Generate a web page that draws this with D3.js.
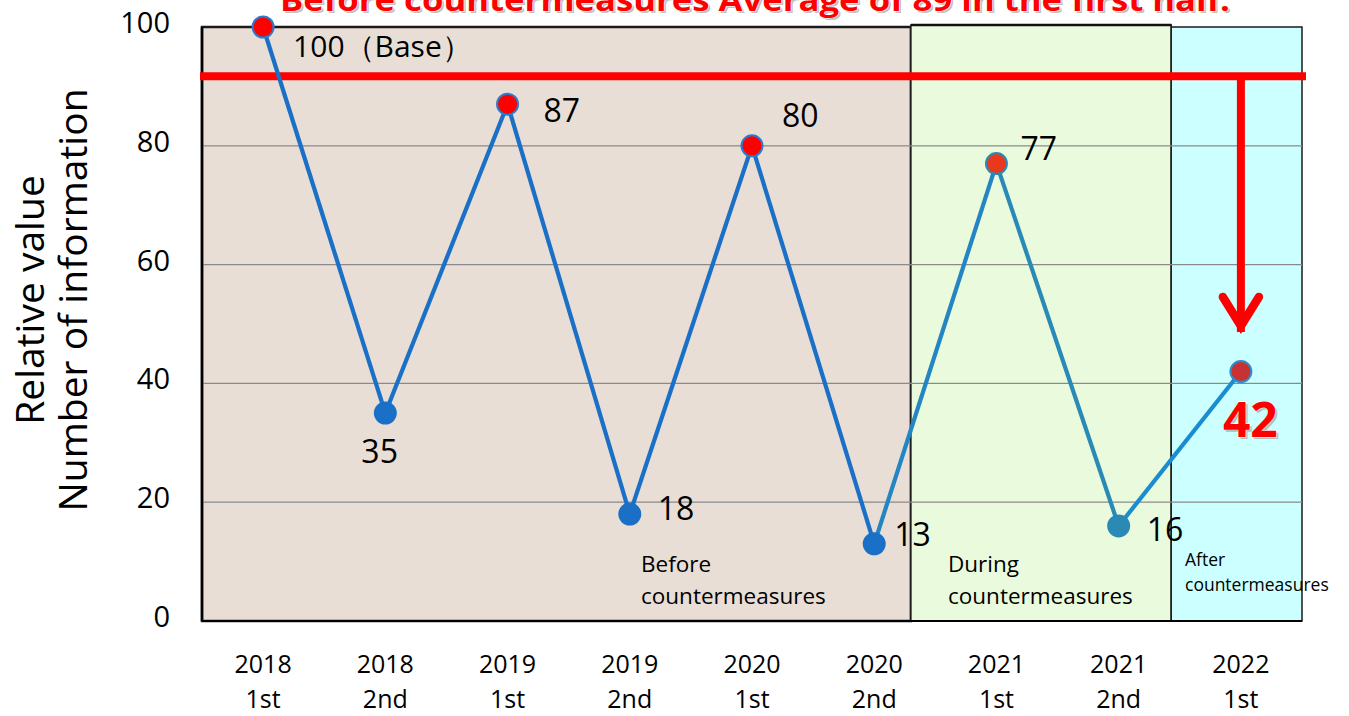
<!DOCTYPE html>
<html><head><meta charset="utf-8">
<script src="https://cdn.jsdelivr.net/npm/d3@7"></script>
<style>body{margin:0;background:#fff;} text{font-family:"Open Sans","Noto Sans",sans-serif;}</style>
</head><body>
<svg id="c" width="1349" height="716"></svg>
<script>
const categories = ["2018\n1st","2018\n2nd","2019\n1st","2019\n2nd","2020\n1st","2020\n2nd","2021\n1st","2021\n2nd","2022\n1st"];
const values = [100,35,87,18,80,13,77,16,42];
const labels = ["100（Base）","35","87","18","80","13","77","16","42"];
const yTicks = [0,20,40,60,80,100];
const regions = [
  {name:"Before\ncountermeasures", from:-0.5, to:5.3},
  {name:"During\ncountermeasures", from:5.3, to:7.43},
  {name:"After\ncountermeasures", from:7.43, to:8.5}
];
const average = 91.7;
const arrowTo = 49;
const title = "Before countermeasures Average of 89 in the first half.";

const svg = d3.select("#c");
const L=202,R=1302,T=27,B=621;
const x = d3.scalePoint().domain(categories).range([L,R]).padding(0.5);
const xi = d3.scaleLinear().domain([-0.5,8.5]).range([L,R]);
const y = d3.scaleLinear().domain([0,100]).range([B,T]);

const regionFill = ["#E8DED5","#EAFBDD","#CCFFFF"];
svg.selectAll("rect.reg").data(regions).join("rect")
  .attr("x",d=>xi(d.from)).attr("width",d=>xi(d.to)-xi(d.from))
  .attr("y",(d,i)=>i==1?T-2:T).attr("height",(d,i)=>i==1?B-T+2:B-T)
  .attr("fill",(d,i)=>regionFill[i]).attr("stroke","#1a1a1a").attr("stroke-width",(d,i)=>i==0?2.5:1.5);
svg.append("line").attr("x1",xi(5.3)).attr("x2",xi(7.43)).attr("y1",T-2).attr("y2",T-2).attr("stroke","#111").attr("stroke-width",2.5);

// gridlines
svg.selectAll("line.grid").data(yTicks.filter(t=>t>0&&t<100)).join("line")
  .attr("x1",L).attr("x2",R).attr("y1",d=>y(d)).attr("y2",d=>y(d))
  .attr("stroke","#8a8a8a").attr("stroke-width",1.2);
svg.append("line").attr("x1",L).attr("x2",L).attr("y1",T).attr("y2",B).attr("stroke","#000").attr("stroke-width",2.5);
svg.append("line").attr("x1",L).attr("x2",R).attr("y1",B).attr("y2",B).attr("stroke","#000").attr("stroke-width",2);

// y tick labels
svg.selectAll("text.yt").data(yTicks).join("text")
  .attr("x",170).attr("y",d=>y(d)+6).attr("text-anchor","end")
  .attr("font-size",29).attr("fill","#000").text(d=>d);

// y title
const yt = svg.append("text").attr("transform","translate(0,300) rotate(-90)").attr("text-anchor","middle").attr("font-size",39).attr("fill","#000");
yt.append("tspan").attr("x",0).attr("y",44).text("Relative value");
yt.append("tspan").attr("x",0).attr("y",87).text("Number of information");

// x tick labels
categories.forEach(c=>{
  const parts=c.split("\n");
  const t=svg.append("text").attr("text-anchor","middle").attr("font-size",25).attr("fill","#000");
  t.append("tspan").attr("x",x(c)).attr("y",673).text(parts[0]);
  t.append("tspan").attr("x",x(c)).attr("y",708).text(parts[1]);
});

// region labels
const regPos=[{x:641,y:572,fs:22.5,dy:32},{x:948,y:572,fs:22.5,dy:32},{x:1185,y:566,fs:17.5,dy:25}];
regions.forEach((r,i)=>{
  const p=regPos[i]; const parts=r.name.split("\n");
  const t=svg.append("text").attr("font-size",p.fs).attr("fill","#000");
  t.append("tspan").attr("x",p.x).attr("y",p.y).text(parts[0]);
  t.append("tspan").attr("x",p.x).attr("y",p.y+p.dy).text(parts[1]);
});

// average line + arrow
svg.append("line").attr("x1",L-2).attr("x2",R+4).attr("y1",y(average)).attr("y2",y(average)).attr("stroke","#FF0000").attr("stroke-width",8);
const ax = x(categories[8]);
svg.append("line").attr("x1",ax).attr("x2",ax).attr("y1",y(average)).attr("y2",y(arrowTo)+2).attr("stroke","#FF0000").attr("stroke-width",8);
svg.append("path").attr("d",`M${ax-18},${y(arrowTo)-33}L${ax},${y(arrowTo)-4}L${ax+18},${y(arrowTo)-33}`)
  .attr("fill","none").attr("stroke","#FF0000").attr("stroke-width",8.5).attr("stroke-linecap","round").attr("stroke-linejoin","miter");

// line segments
const segColors=["#1A6FC6","#1A6FC6","#1A6FC6","#1A6FC6","#1A6FC6","#2385C2","#2A8AB6","#1A8CD0"];
for(let i=0;i<values.length-1;i++){
  svg.append("line").attr("x1",x(categories[i])).attr("y1",y(values[i]))
   .attr("x2",x(categories[i+1])).attr("y2",y(values[i+1]))
   .attr("stroke",segColors[i]).attr("stroke-width",4.2);
}
const mFill=["#FF0000","#1A6FC6","#FF0000","#1A6FC6","#FF0000","#1A6FC6","#E8391C","#2A8AB5","#C83232"];
const mStroke=["#2C7BD0","#1A6FC6","#2C7BD0","#1A6FC6","#2C7BD0","#1A6FC6","#2A8AB5","#2A8AB5","#2A8ED0"];
svg.selectAll("circle.m").data(values).join("circle")
  .attr("cx",(d,i)=>x(categories[i])).attr("cy",d=>y(d)).attr("r",10.5)
  .attr("fill",(d,i)=>mFill[i]).attr("stroke",(d,i)=>mStroke[i]).attr("stroke-width",2);

// data labels
const lblOff=[[30,20],[-24,40],[36,8],[28,-4],[30,-29],[20,-8],[24,-14],[28,5]];
for(let i=0;i<8;i++){
  svg.append("text").attr("x",x(categories[i])+lblOff[i][0]).attr("y",y(values[i])+lblOff[i][1]+10)
    .attr("font-size",i==0?30:32).attr("fill","#000").text(labels[i]);
}
// 42 label
svg.append("text").attr("x",x(categories[8])-18).attr("y",y(values[8])+65).attr("font-size",48).attr("font-weight","bold")
  .attr("fill","#999").attr("opacity",0.6).text(labels[8]).attr("dx",2).attr("dy",2);
svg.append("text").attr("x",x(categories[8])-18).attr("y",y(values[8])+65).attr("font-size",48).attr("font-weight","bold")
  .attr("fill","#FF0000").attr("stroke","#fff").attr("stroke-width",0.8).attr("paint-order","stroke").text(labels[8]);

// title (cut off at top, as in the reference)
svg.append("text").attr("x",755).attr("y",11).attr("text-anchor","middle").attr("font-size",31).attr("font-weight","bold")
  .attr("fill","#999").attr("opacity",0.6).attr("dx",2).attr("dy",2).attr("textLength",950).attr("lengthAdjust","spacingAndGlyphs").text(title);
svg.append("text").attr("x",755).attr("y",11).attr("text-anchor","middle").attr("font-size",31).attr("font-weight","bold")
  .attr("fill","#FF0000").attr("stroke","#fff").attr("stroke-width",1).attr("paint-order","stroke")
  .attr("textLength",950).attr("lengthAdjust","spacingAndGlyphs").text(title);
</script>
</body></html>
